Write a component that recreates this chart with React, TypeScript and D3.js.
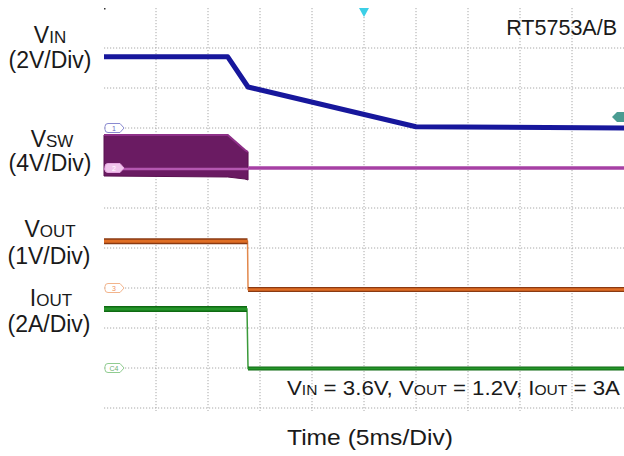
import React from "react";
import * as d3 from "d3";

// ---- data (time in ms, values in V or A) ----
const vinTime = [0, 11.9, 13.85, 30.0, 50];
const vinValues = [3.56, 3.56, 2.05, 0.06, 0.0];

const vswTime = [0, 11.9, 13.55, 13.85];
const vswHigh = [3.3, 3.3, 1.8, 1.6];
const vswLow = [-0.8, -0.9, -1.1, -1.2];
const vswOffTime = [13.85, 50];
const vswOffValues = [0, 0];

const voutTime = [0, 13.8, 13.85, 50];
const voutValues = [1.17, 1.17, -0.04, -0.04];

const ioutTime = [0, 13.75, 13.85, 50];
const ioutValues = [2.95, 2.95, -0.02, -0.02];

const timeDivs = [0, 1, 2, 3, 4, 5, 6, 7, 8, 9, 10];
const ampDivs = [-5, -4, -3, -2, -1, 0, 1, 2, 3, 4, 5];

const W = 624;
const H = 456;
const FONT = "'Liberation Sans', Arial, Helvetica, sans-serif";

const x = d3.scaleLinear().domain([0, 50]).range([104, 624]);
const yDiv = d3.scaleLinear().domain([-5, 5]).range([408, 8]);
const chan = (ground: number, perDiv: number) => (v: number) => yDiv(ground + v / perDiv);
const yVin = chan(2, 2);
const yVsw = chan(1, 4);
const yVout = chan(-2, 1);
const yIout = chan(-4, 2);

function pts(t: number[], v: number[]): [number, number][] {
  return t.map((d, i) => [d, v[i]]);
}

function flatSegments(t: number[], v: number[], ys: (v: number) => number) {
  const segs: { x1: number; x2: number; y1: number; y2: number }[] = [];
  for (let i = 0; i < t.length - 1; i++) {
    const dx = Math.abs(x(t[i + 1]) - x(t[i]));
    const dy = Math.abs(ys(v[i + 1]) - ys(v[i]));
    if (dy < dx) segs.push({ x1: x(t[i]), x2: x(t[i + 1]), y1: ys(v[i]), y2: ys(v[i + 1]) });
  }
  return segs;
}

function Tag({ y, stroke, fill, label, color }: { y: number; stroke: string; fill: string; label: string; color: string }) {
  const x0 = 105;
  const d = `M${x0 + 3},${y - 4.5} h12 l4,4.5 l-4,4.5 h-12 q-3,0 -3,-3 v-3 q0,-3 3,-3 z`;
  return (
    <g>
      <path d={d} fill={fill} stroke={stroke} strokeWidth={1} />
      <text x={x0 + 9} y={y + 2.5} fontSize={7} textAnchor="middle" fill={color} fontFamily={FONT}>
        {label}
      </text>
    </g>
  );
}

export default function App() {
  const line = d3.line<[number, number]>();
  const vinPath = line(pts(vinTime, vinValues).map(([t, v]) => [x(t), yVin(v)]));
  const vswArea = d3
    .area<number>()
    .x((i) => x(vswTime[i]))
    .y0((i) => yVsw(vswLow[i]))
    .y1((i) => yVsw(vswHigh[i]))(vswTime.map((_, i) => i));
  const vswTop = line(vswTime.map((t, i) => [x(t), yVsw(vswHigh[i])] as [number, number]));
  const vswOff = line(pts(vswOffTime, vswOffValues).map(([t, v]) => [x(t), yVsw(v)]));
  const voutPath = line(pts(voutTime, voutValues).map(([t, v]) => [x(t), yVout(v)]));
  const ioutPath = line(pts(ioutTime, ioutValues).map(([t, v]) => [x(t), yIout(v)]));
  const voutSegs = flatSegments(voutTime, voutValues, yVout);
  const ioutSegs = flatSegments(ioutTime, ioutValues, yIout);

  const gridColor = "#a8a8a8";

  return (
    <svg width={W} height={H} style={{ position: "absolute", left: 0, top: 0, background: "#fff" }}>
      <rect x={0} y={0} width={W} height={H} fill="#fff" />
      {/* grid */}
      <g>
        {timeDivs.slice(1, 10).map((d) => {
          const xx = x(d * 5);
          return (
            <line key={"v" + d} x1={xx} x2={xx} y1={yDiv(5)} y2={yDiv(-5) + 3} stroke={gridColor} strokeWidth={1} strokeDasharray="1.2 1.8" />
          );
        })}
        {ampDivs.slice(0, 10).map((d) => {
          const yy = yDiv(d);
          return (
            <line key={"h" + d} x1={104} x2={624} y1={yy} y2={yy} stroke={gridColor} strokeWidth={1} strokeDasharray="1.2 1.8" />
          );
        })}
        <rect x={104} y={8} width={1.5} height={1.5} fill="#333" />
      </g>

      {/* VSW */}
      <path d={vswArea ?? ""} fill="#6a1b62" stroke="#5a1050" strokeWidth={1} />
      <path d={vswTop ?? ""} fill="none" stroke="#8e3088" strokeWidth={2} />
      <line x1={x(0)} x2={x(vswTime[vswTime.length - 1])} y1={yVsw(0) + 1} y2={yVsw(0) + 1} stroke="#b457b0" strokeWidth={2.5} />
      <path d={vswOff ?? ""} fill="none" stroke="#a640a4" strokeWidth={3.5} />

      {/* VIN */}
      <path d={vinPath ?? ""} fill="none" stroke="#17179c" strokeWidth={5} strokeLinejoin="round" />

      {/* VOUT */}
      <path d={voutPath ?? ""} fill="none" stroke="#e2884c" strokeWidth={1.5} />
      {voutSegs.map((s, i) => (
        <g key={"vo" + i}>
          <line x1={s.x1} x2={s.x2} y1={s.y1} y2={s.y2} stroke="#8a3a12" strokeWidth={i === 0 ? 6 : 5} />
          <line x1={s.x1} x2={s.x2} y1={s.y1} y2={s.y2} stroke="#e06e24" strokeWidth={i === 0 ? 3 : 2.5} />
        </g>
      ))}

      {/* IOUT */}
      <path d={ioutPath ?? ""} fill="none" stroke="#3a9a3a" strokeWidth={1.5} />
      {ioutSegs.map((s, i) => (
        <g key={"io" + i}>
          <line x1={s.x1} x2={s.x2} y1={s.y1} y2={s.y2} stroke="#0e6a12" strokeWidth={i === 0 ? 6 : 4} />
          <line x1={s.x1} x2={s.x2} y1={s.y1} y2={s.y2} stroke="#25952a" strokeWidth={i === 0 ? 3 : 2} />
        </g>
      ))}

      {/* channel tags */}
      <Tag y={yVin(0)} stroke="#8a8ad0" fill="#fff" label="1" color="#6a6ac0" />
      <Tag y={yVsw(0)} stroke="#e6a6e0" fill="#f0c4ec" label="2" color="#fff" />
      <Tag y={yVout(0)} stroke="#f2b48c" fill="#fff" label="3" color="#f09060" />
      <Tag y={yIout(0)} stroke="#90cc90" fill="#fff" label="C4" color="#70b070" />

      {/* trigger markers */}
      <path d={`M${x(25) - 5},8 h10 l-5,9 z`} fill="#3ccfe6" />
      <path d={`M612,${yVin(0.55)} l5,-5 h7 v10 h-7 z`} fill="#4a9c92" />

      {/* labels */}
      <g fontFamily={FONT} fill="#1a1a1a">
        <text x={50} y={43} fontSize={23} textAnchor="middle">
          V<tspan fontSize={17}>IN</tspan>
        </text>
        <text x={50} y={68} fontSize={23} textAnchor="middle">(2V/Div)</text>
        <text x={52} y={147} fontSize={23} textAnchor="middle">
          V<tspan fontSize={17}>SW</tspan>
        </text>
        <text x={50} y={171} fontSize={23} textAnchor="middle">(4V/Div)</text>
        <text x={50} y={237} fontSize={23} textAnchor="middle">
          V<tspan fontSize={17}>OUT</tspan>
        </text>
        <text x={49} y={264} fontSize={23} textAnchor="middle">(1V/Div)</text>
        <text x={51} y={306} fontSize={23} textAnchor="middle">
          I<tspan fontSize={17}>OUT</tspan>
        </text>
        <text x={49} y={332} fontSize={23} textAnchor="middle">(2A/Div)</text>

        <text x={617} y={35} fontSize={21.5} textAnchor="end">RT5753A/B</text>

        <text x={287} y={395} fontSize={20} textLength={333} lengthAdjust="spacingAndGlyphs">
          V<tspan fontSize={14}>IN</tspan> = 3.6V, V<tspan fontSize={14}>OUT</tspan> = 1.2V, I<tspan fontSize={14}>OUT</tspan> = 3A
        </text>

        <text x={287} y={445} fontSize={22} textLength={166} lengthAdjust="spacingAndGlyphs">
          Time  (5ms/Div)
        </text>
      </g>
    </svg>
  );
}
